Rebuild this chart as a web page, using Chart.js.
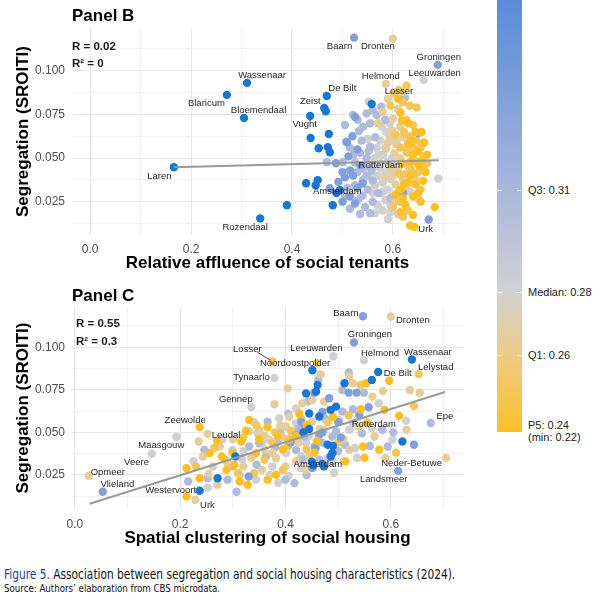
<!DOCTYPE html>
<html>
<head>
<meta charset="utf-8">
<script src="https://cdn.jsdelivr.net/npm/chart.js@4.4.1/dist/chart.umd.min.js"></script>
<style>
  body { margin: 0; background: #fff; }
  #page { position: relative; width: 601px; height: 601px; overflow: hidden; font-family: "Liberation Sans", Arial, sans-serif; }
  canvas { position: absolute; left: 0; }
  .ptitle { position: absolute; left: 72px; font-size: 17px; font-weight: bold; line-height: 17px; color: #000; }
  .stat { position: absolute; font-size: 11.5px; font-weight: bold; line-height: 11.5px; color: #1a1a1a; white-space: nowrap; }
  #bar { position: absolute; left: 497px; top: 0; width: 25px; height: 432px;
         background: linear-gradient(to top, #FCC02A 0%, #EDCB85 17.8%, #D1D1D3 32.4%, #A9B7DC 56%, #7C9EDA 80%, #5B8CD9 100%); }
  .tk { position: absolute; width: 5px; height: 1px; background: rgba(255,255,255,0.8); }
  .blab { position: absolute; left: 528px; font-size: 11px; line-height: 12px; color: #1a1a1a; transform: translateY(-50%); white-space: nowrap; }
  #caption { position: absolute; left: 4px; top: 566px; font-family: "Liberation Sans Narrow", "DejaVu Sans Condensed", "Liberation Sans", sans-serif;
             color: #111; white-space: nowrap; transform: scaleX(0.875); transform-origin: 0 0; }
  #caption .l1 { font-size: 13.5px; line-height: 16px; }
  #caption .l1 b { color: #1f3f92; font-weight: normal; }
  #caption .l2 { font-size: 11px; line-height: 13px; }
</style>
</head>
<body>
<div id="page">
  <canvas id="panelB" width="470" height="280" style="top:0"></canvas>
  <canvas id="panelC" width="470" height="275" style="top:280px"></canvas>

  <div class="ptitle" style="top:7px">Panel B</div>
  <div class="ptitle" style="top:287px">Panel C</div>
  <div class="stat" style="left:72px;top:41px">R = 0.02</div>
  <div class="stat" style="left:72px;top:58px">R² = 0</div>
  <div class="stat" style="left:76px;top:318px">R = 0.55</div>
  <div class="stat" style="left:76px;top:336px">R² = 0.3</div>

  <div id="bar"></div>
  <div class="tk" style="left:497px;top:190px"></div><div class="tk" style="left:517px;top:190px"></div>
  <div class="tk" style="left:497px;top:292px"></div><div class="tk" style="left:517px;top:292px"></div>
  <div class="tk" style="left:497px;top:355px"></div><div class="tk" style="left:517px;top:355px"></div>
  <div class="blab" style="top:190px">Q3: 0.31</div>
  <div class="blab" style="top:292px">Median: 0.28</div>
  <div class="blab" style="top:355px">Q1: 0.26</div>
  <div class="blab" style="top:431px">P5: 0.24<br>(min: 0.22)</div>

  <div id="caption">
    <div class="l1"><b>Figure 5.</b> Association between segregation and social housing characteristics (2024).</div>
    <div class="l2">Source: Authors’ elaboration from CBS microdata.</div>
  </div>
</div>

<script>
// colour variable (legend) per colour class: gold, yellow, beige, grey, light blue, blue, deep blue
var levelValues = [0.235, 0.25, 0.266, 0.281, 0.305, 0.34, 0.42];
var colourStops = [[0.22, '#FFBE0B'], [0.24, '#FBC02D'], [0.26, '#EDCB85'], [0.28, '#D1D1D3'], [0.31, '#A9B7DC'], [0.36, '#6690DA'], [0.42, '#1976D2']];

// ---------- Panel B: relative affluence of social tenants vs segregation ----------
var bGold = [[0.610,0.0840],[0.615,0.0760],[0.630,0.0700],[0.645,0.0650],[0.638,0.0595],[0.657,0.0650],[0.630,0.0580],[0.650,0.0540],[0.662,0.0590],[0.640,0.0520],[0.620,0.0470],[0.655,0.0480],[0.635,0.0400],[0.645,0.0350],[0.630,0.0360],[0.615,0.0320],[0.650,0.0300],[0.640,0.0280],[0.620,0.0270],[0.605,0.0290],[0.625,0.0230],[0.640,0.0175],[0.683,0.0220],[0.634,0.0115],[0.643,0.0105],[0.660,0.0370],[0.615,0.0190],[0.618,0.0715],[0.665,0.0420],
  [0.652,0.0455],[0.668,0.0520],[0.635,0.0480],[0.622,0.0350],[0.655,0.0250]];
var bYellow = [[0.602,0.0872],[0.627,0.0914],[0.620,0.0820],[0.634,0.0800],[0.647,0.0790],[0.627,0.0720],[0.640,0.0690],[0.622,0.0650],[0.634,0.0625],[0.647,0.0600],[0.655,0.0560],[0.640,0.0560],[0.628,0.0530],[0.645,0.0480],[0.635,0.0440],[0.650,0.0420],[0.660,0.0450],[0.625,0.0410],[0.615,0.0250],[0.600,0.0220],[0.630,0.0200],[0.655,0.0320],[0.660,0.0510],[0.605,0.0635],[0.612,0.0890],[0.595,0.0800],
  [0.615,0.0560],[0.642,0.0410],[0.612,0.0410],[0.668,0.0470],[0.620,0.0165]];
var bBeige = [[0.586,0.0925],[0.600,0.1184],[0.610,0.0780],[0.600,0.0725],[0.614,0.0680],[0.594,0.0620],[0.607,0.0580],[0.587,0.0555],[0.603,0.0530],[0.614,0.0500],[0.595,0.0450],[0.610,0.0430],[0.600,0.0400],[0.620,0.0385],[0.605,0.0350],[0.625,0.0330],[0.610,0.0300],[0.630,0.0455],[0.625,0.0560],[0.580,0.0765],[0.570,0.0700],[0.640,0.0500],[0.645,0.0380],[0.650,0.0270],[0.590,0.0840],[0.620,0.0880],[0.615,0.0620],[0.585,0.0390],
  [0.598,0.0660],[0.612,0.0455],[0.628,0.0610],[0.590,0.0590],[0.605,0.0250]];
var bGrey = [[0.661,0.0948],[0.552,0.0822],[0.594,0.0700],[0.587,0.0650],[0.575,0.0600],[0.568,0.0560],[0.581,0.0520],[0.564,0.0500],[0.590,0.0480],[0.576,0.0471],[0.574,0.0445],[0.562,0.0455],[0.585,0.0420],[0.570,0.0400],[0.595,0.0380],[0.580,0.0360],[0.565,0.0345],[0.590,0.0320],[0.575,0.0300],[0.600,0.0280],[0.585,0.0260],[0.570,0.0230],[0.595,0.0230],[0.580,0.0200],[0.565,0.0185],[0.610,0.0180],[0.555,0.0395],[0.690,0.0383],[0.634,0.0306],[0.550,0.0610],[0.600,0.0600],[0.578,0.0680],[0.598,0.0500],[0.590,0.0150],
  [0.585,0.0560],[0.572,0.0520],[0.600,0.0420],[0.582,0.0310],[0.560,0.0300],[0.595,0.0190]];
var bLight = [[0.501,0.0477],[0.469,0.0477],[0.521,0.0747],[0.548,0.0756],[0.568,0.0747],[0.577,0.0795],[0.541,0.0680],[0.533,0.0655],[0.515,0.0560],[0.535,0.0530],[0.548,0.0500],[0.525,0.0475],[0.545,0.0450],[0.530,0.0420],[0.548,0.0400],[0.558,0.0430],[0.541,0.0375],[0.525,0.0345],[0.550,0.0320],[0.540,0.0285],[0.531,0.0262],[0.560,0.0250],[0.545,0.0220],[0.571,0.0300],[0.555,0.0565],[0.565,0.0620],[0.555,0.0700],[0.505,0.0690],[0.530,0.0720],[0.624,0.0845],[0.560,0.0775],[0.585,0.0720],[0.505,0.0280],[0.515,0.0210],[0.555,0.0185],[0.595,0.0270],[0.560,0.0370],
  [0.538,0.0600],[0.552,0.0540],[0.522,0.0520],[0.540,0.0440],[0.510,0.0330],[0.535,0.0180]];
var bBlue = [[0.523,0.1190],[0.689,0.1034],[0.671,0.0149],[0.525,0.0736],[0.509,0.0590],[0.487,0.0471],[0.650,0.0644],[0.620,0.0299],[0.492,0.0364],[0.508,0.0594],[0.515,0.0430],[0.521,0.0400],[0.505,0.0390],[0.530,0.0330],[0.515,0.0280],[0.540,0.0355],[0.525,0.0240],[0.512,0.0510],[0.475,0.0328],[0.500,0.0420],[0.535,0.0460],[0.520,0.0625],
  [0.500,0.0250],[0.530,0.0550]];
var bDeep = [[0.311,0.0931],[0.271,0.0862],[0.305,0.0730],[0.166,0.0448],[0.337,0.0155],[0.390,0.0230],[0.469,0.0856],[0.464,0.0787],[0.467,0.0768],[0.436,0.0741],[0.437,0.0615],[0.473,0.0638],[0.453,0.0557],[0.471,0.0563],[0.475,0.0534],[0.428,0.0356],[0.447,0.0345],[0.451,0.0374],[0.481,0.0230],[0.558,0.0810],[0.495,0.0316],[0.488,0.0300]];
var bFit = [[0.166,0.0448],[0.691,0.0488]];

var bNames = ['Baarn','Dronten','Groningen','Leeuwarden','Helmond','Losser','De Bilt','Zeist','Wassenaar','Blaricum','Bloemendaal','Vught','Laren','Rotterdam','Amsterdam','Rozendaal','Urk'];
var bNameX = [0.523,0.600,0.689,0.661,0.586,0.624,0.469,0.464,0.311,0.271,0.305,0.436,0.166,0.576,0.475,0.337,0.671];
var bNameY = [0.1190,0.1184,0.1034,0.0948,0.0925,0.0845,0.0856,0.0787,0.0931,0.0862,0.0730,0.0741,0.0448,0.0471,0.0328,0.0155,0.0149];

// ---------- Panel C: spatial clustering of social housing vs segregation ----------
var cGold = [[0.237,0.0532],[0.597,0.0803],[0.553,0.0788],[0.543,0.0636],[0.588,0.0632],[0.616,0.0597],[0.578,0.0398],[0.547,0.0417],[0.514,0.0329],[0.426,0.0611],[0.331,0.0573],[0.366,0.0530],[0.325,0.0510],[0.407,0.0456],[0.385,0.0480],[0.316,0.0446],[0.344,0.0378],[0.382,0.0251],[0.366,0.0222],[0.328,0.0192],[0.288,0.0280],[0.303,0.0309],[0.279,0.0358],[0.256,0.0378],[0.212,0.0290],[0.237,0.0231],[0.313,0.0212],[0.212,0.0124],[0.440,0.0545],[0.550,0.0350],[0.460,0.0450],
  [0.350,0.0460],[0.395,0.0400],[0.420,0.0480],[0.300,0.0380],[0.455,0.0380],[0.270,0.0450],[0.490,0.0590]];
var cYellow = [[0.653,0.0842],[0.375,0.0918],[0.460,0.0906],[0.543,0.0778],[0.644,0.0655],[0.320,0.0470],[0.380,0.0500],[0.410,0.0510],[0.360,0.0340],[0.285,0.0340],[0.265,0.0410],[0.430,0.0580],[0.480,0.0560],[0.500,0.0440],[0.340,0.0260],[0.395,0.0280],[0.555,0.0560],[0.610,0.0380],[0.230,0.0300],
  [0.345,0.0540],[0.375,0.0440],[0.405,0.0420],[0.310,0.0260],[0.440,0.0400],[0.520,0.0600]];
var cBeige = [[0.600,0.1180],[0.705,0.0350],[0.0265,0.0245],[0.252,0.0491],[0.229,0.0104],[0.467,0.0840],[0.521,0.0827],[0.528,0.0788],[0.565,0.0710],[0.585,0.0743],[0.636,0.0749],[0.655,0.0733],[0.630,0.0515],[0.569,0.0476],[0.540,0.0534],[0.483,0.0632],[0.473,0.0680],[0.451,0.0690],[0.432,0.0671],[0.451,0.0563],[0.445,0.0358],[0.439,0.0281],[0.511,0.0330],[0.521,0.0398],[0.404,0.0758],[0.379,0.0665],[0.407,0.0592],[0.350,0.0514],[0.331,0.0505],[0.401,0.0534],[0.382,0.0348],[0.275,0.0417],[0.243,0.0358],[0.271,0.0192],[0.235,0.0446],[0.254,0.0256],[0.395,0.0470],[0.360,0.0400],[0.320,0.0300],[0.300,0.0460],[0.420,0.0330],[0.355,0.0280],[0.510,0.0460],[0.590,0.0350],
  [0.360,0.0480],[0.390,0.0540],[0.425,0.0440],[0.335,0.0350],[0.290,0.0320],[0.465,0.0520],[0.400,0.0300],[0.375,0.0380]];
var cGrey = [[0.491,0.0947],[0.549,0.0924],[0.379,0.0819],[0.335,0.0649],[0.193,0.0473],[0.146,0.0374],[0.577,0.0671],[0.629,0.0569],[0.603,0.0456],[0.532,0.0408],[0.521,0.0515],[0.502,0.0573],[0.528,0.0557],[0.489,0.0330],[0.439,0.0437],[0.473,0.0515],[0.492,0.0261],[0.536,0.0349],[0.442,0.0680],[0.388,0.0583],[0.420,0.0553],[0.347,0.0495],[0.369,0.0456],[0.299,0.0397],[0.401,0.0378],[0.429,0.0290],[0.406,0.0245],[0.344,0.0222],[0.313,0.0251],[0.262,0.0300],[0.252,0.0175],[0.386,0.0204],[0.375,0.0300],[0.318,0.0340],[0.225,0.0330],[0.564,0.0526],[0.340,0.0560],[0.420,0.0640],[0.280,0.0460],
  [0.355,0.0440],[0.410,0.0470],[0.445,0.0480],[0.370,0.0250],[0.430,0.0360],[0.480,0.0350],[0.320,0.0390]];
var cLight = [[0.676,0.0555],[0.520,0.0852],[0.549,0.0733],[0.528,0.0636],[0.594,0.0417],[0.513,0.0427],[0.545,0.0495],[0.496,0.0505],[0.508,0.0622],[0.584,0.0515],[0.455,0.0417],[0.489,0.0476],[0.464,0.0339],[0.462,0.0807],[0.445,0.0690],[0.508,0.0749],[0.436,0.0475],[0.366,0.0563],[0.350,0.0436],[0.331,0.0417],[0.363,0.0358],[0.420,0.0397],[0.470,0.0440],[0.417,0.0202],[0.246,0.0397],[0.252,0.0231],[0.215,0.0212],[0.290,0.0222],[0.307,0.0151],[0.400,0.0222],[0.432,0.0339],[0.390,0.0500],[0.405,0.0610],[0.605,0.0500],[0.560,0.0420],[0.300,0.0300],[0.380,0.0410],
  [0.385,0.0450],[0.425,0.0520],[0.345,0.0310],[0.475,0.0580],[0.500,0.0390],[0.440,0.0250]];
var cBlue = [[0.547,0.1182],[0.530,0.1028],[0.614,0.0274],[0.053,0.0151],[0.520,0.0733],[0.535,0.0733],[0.558,0.0647],[0.644,0.0427],[0.483,0.0700],[0.464,0.0486],[0.455,0.0733],[0.437,0.0540],[0.420,0.0485],[0.451,0.0290],[0.330,0.0241],[0.457,0.0407],[0.470,0.0620],[0.500,0.0560],[0.410,0.0440],[0.540,0.0600],
  [0.470,0.0500],[0.505,0.0470],[0.430,0.0560]];
var cDeep = [[0.640,0.0928],[0.576,0.0854],[0.237,0.0157],[0.564,0.0807],[0.451,0.0865],[0.512,0.0788],[0.439,0.0729],[0.458,0.0739],[0.461,0.0778],[0.496,0.0651],[0.486,0.0632],[0.464,0.0593],[0.445,0.0611],[0.622,0.0446],[0.489,0.0378],[0.480,0.0427],[0.453,0.0305],[0.473,0.0300],[0.305,0.0358],[0.271,0.0231],[0.470,0.0315],[0.486,0.0358],[0.450,0.0327],[0.434,0.0500],
  [0.445,0.0520],[0.490,0.0420]];
var cFit = [[0.028,0.0081],[0.703,0.0737]];

var cNames = ['Baarn','Dronten','Groningen','Losser','Leeuwarden','Helmond','Wassenaar','Noordoostpolder','Lelystad','Tynaarlo','De Bilt','Gennep','Zeewolde','Leudal','Epe','Rotterdam','Maasgouw','Veere','Opmeer','Amsterdam','Neder-Betuwe','Landsmeer','Vlieland','Westervoort','Urk'];
var cNameX = [0.547,0.600,0.530,0.375,0.491,0.549,0.640,0.460,0.653,0.379,0.576,0.335,0.237,0.252,0.676,0.564,0.146,0.117,0.0265,0.450,0.705,0.614,0.053,0.237,0.229];
var cNameY = [0.1182,0.1180,0.1028,0.0918,0.0947,0.0924,0.0928,0.0906,0.0842,0.0819,0.0854,0.0649,0.0532,0.0491,0.0555,0.0526,0.0374,0.0323,0.0245,0.0327,0.0350,0.0274,0.0151,0.0157,0.0104];

// label placement (pixel nudges from the point), like ggrepel put them
var bNudge = { 'Baarn': [-14.5, 8.7], 'Dronten': [-15, 8], 'Groningen': [1, -7.5], 'Leeuwarden': [11, -6.7],
  'Helmond': [-5, -7.7], 'Losser': [-6, -6.7], 'De Bilt': [15.5, -7.7], 'Zeist': [-14, -7], 'Wassenaar': [15, -7],
  'Blaricum': [-20.5, 8], 'Bloemendaal': [14.5, -7.5], 'Vught': [-5.5, 8.3], 'Laren': [-14.5, 9],
  'Rotterdam': [0, 2], 'Amsterdam': [7.5, 3], 'Rozendaal': [-15, 9], 'Urk': [-3, 10] };
var cNudge = { 'Baarn': [-17, -2.6], 'Dronten': [22, 4], 'Groningen': [16, -8], 'Losser': [-25, -12],
  'Leeuwarden': [-17, -8], 'Helmond': [16, -7], 'Wassenaar': [16, -7.5], 'Noordoostpolder': [-22, 0],
  'Lelystad': [17, -6.5], 'Tynaarlo': [-23, -0.5], 'De Bilt': [19.5, 1.5], 'Gennep': [-15.5, -7.5],
  'Zeewolde': [-14.5, -7], 'Leudal': [18.5, 1], 'Epe': [14, -7], 'Rotterdam': [2, -4], 'Maasgouw': [9.5, -8],
  'Veere': [0, 0], 'Opmeer': [19, -3.5], 'Amsterdam': [6, 2.5], 'Neder-Betuwe': [-34.5, 5.5],
  'Landsmeer': [-14.5, 9], 'Vlieland': [14.5, -7], 'Westervoort': [-29, 0], 'Urk': [12, 6] };

var FONT = '"Liberation Sans", Arial, sans-serif';
Chart.defaults.font.family = FONT;

function hexRgb(h) {
  return [parseInt(h.slice(1, 3), 16), parseInt(h.slice(3, 5), 16), parseInt(h.slice(5, 7), 16)];
}
function colourFor(v) {
  for (var i = 0; i < colourStops.length - 1; i++) {
    var a = colourStops[i], b = colourStops[i + 1];
    if (v <= b[0]) {
      var t = Math.max(0, (v - a[0]) / (b[0] - a[0]));
      var ca = hexRgb(a[1]), cb = hexRgb(b[1]);
      return 'rgb(' + ca.map(function (c, k) { return Math.round(c + (cb[k] - c) * t); }).join(',') + ')';
    }
  }
  return colourStops[colourStops.length - 1][1];
}

var pointNames = {
  id: 'pointNames',
  afterDatasetsDraw: function (chart, args, opts) {
    var ctx = chart.ctx, xs = chart.scales.x, ys = chart.scales.y;
    ctx.save();
    ctx.font = '9.5px ' + FONT;
    ctx.fillStyle = '#1f1f1f';
    ctx.textAlign = 'center';
    ctx.textBaseline = 'middle';
    opts.names.forEach(function (name, i) {
      var px = xs.getPixelForValue(opts.xs[i]);
      var py = ys.getPixelForValue(opts.ys[i]);
      var n = opts.nudge[name] || [0, 0];
      if (opts.leaders.indexOf(name) >= 0) {
        ctx.strokeStyle = '#1f1f1f';
        ctx.lineWidth = 0.8;
        ctx.beginPath();
        ctx.moveTo(px + n[0] + 10, py + n[1] + 3);
        ctx.lineTo(px - 2, py - 1);
        ctx.stroke();
      }
      ctx.fillText(name, px + n[0], py + n[1]);
    });
    ctx.restore();
  }
};

function makeDatasets(levels, fit) {
  // first dataset is drawn on top in Chart.js
  var order = [6, 0, 5, 1, 2, 4, 3];
  var sets = [{
    data: fit, showLine: true, borderColor: '#9a9a9a', borderWidth: 2,
    pointRadius: 0, fill: false
  }];
  order.forEach(function (k) {
    sets.push({
      data: levels[k],
      backgroundColor: colourFor(levelValues[k]),
      borderWidth: 0,
      pointRadius: 4.2,
      pointHoverRadius: 4.2
    });
  });
  return sets;
}

function gridColour(step) {
  return function (c) {
    var v = c.tick ? c.tick.value : 0;
    return Math.round(v / step) % 2 === 0 ? '#e6e6e6' : '#f1f1f1';
  };
}

function makePanel(id, cfg) {
  new Chart(document.getElementById(id), {
    type: 'scatter',
    data: { datasets: makeDatasets(cfg.levels, cfg.fit) },
    plugins: [pointNames],
    options: {
      responsive: false,
      animation: false,
      layout: { padding: { top: cfg.padTop, right: cfg.padRight, left: 0, bottom: 0 } },
      plugins: {
        legend: { display: false },
        tooltip: { enabled: false },
        pointNames: { names: cfg.names, xs: cfg.nameX, ys: cfg.nameY, nudge: cfg.nudge, leaders: cfg.leaders }
      },
      scales: {
        x: {
          type: 'linear', min: cfg.xMin, max: cfg.xMax,
          afterFit: function (s) { s.height = cfg.xAxisH; },
          border: { display: false },
          grid: { drawTicks: false, color: gridColour(0.1), lineWidth: 1 },
          ticks: {
            stepSize: 0.1, includeBounds: false, autoSkip: false, maxRotation: 0,
            padding: cfg.xTickPad, color: '#4d4d4d', font: { size: 12 },
            callback: function (v) { return Math.round(v * 10) % 2 === 0 ? v.toFixed(1) : ''; }
          },
          title: { display: true, text: cfg.xTitle, color: '#000',
                   font: { size: 17, weight: 'bold' }, padding: { top: 0, bottom: 6 } }
        },
        y: {
          type: 'linear', min: cfg.yMin, max: cfg.yMax,
          afterFit: function (s) { s.width = cfg.yAxisW; },
          border: { display: false },
          grid: { drawTicks: false, color: gridColour(0.0125), lineWidth: 1 },
          ticks: {
            stepSize: 0.0125, includeBounds: false, autoSkip: false,
            padding: cfg.yTickPad, color: '#4d4d4d', font: { size: 12 },
            callback: function (v) { return Math.round(v / 0.0125) % 2 === 0 ? v.toFixed(3) : ''; }
          },
          title: { display: true, text: 'Segregation (SROITI)', color: '#000',
                   font: { size: 17, weight: 'bold' }, padding: { top: 13, bottom: 0 } }
        }
      }
    }
  });
}

makePanel('panelB', {
  levels: [bGold, bYellow, bBeige, bGrey, bLight, bBlue, bDeep], fit: bFit,
  names: bNames, nameX: bNameX, nameY: bNameY, nudge: bNudge, leaders: [],
  xMin: -0.034, xMax: 0.737, yMin: 0.006, yMax: 0.1245,
  padTop: 28, padRight: 8, xAxisH: 45, yAxisW: 73, xTickPad: 7, yTickPad: 8,
  xTitle: 'Relative affluence of social tenants'
});

makePanel('panelC', {
  levels: [cGold, cYellow, cBeige, cGrey, cLight, cBlue, cDeep], fit: cFit,
  names: cNames, nameX: cNameX, nameY: cNameY, nudge: cNudge, leaders: ['Losser'],
  xMin: -0.0074, xMax: 0.739, yMin: 0.005, yMax: 0.1236,
  padTop: 27, padRight: 6, xAxisH: 46, yAxisW: 71, xTickPad: 8, yTickPad: 6,
  xTitle: 'Spatial clustering of social housing'
});
</script>
</body>
</html>
